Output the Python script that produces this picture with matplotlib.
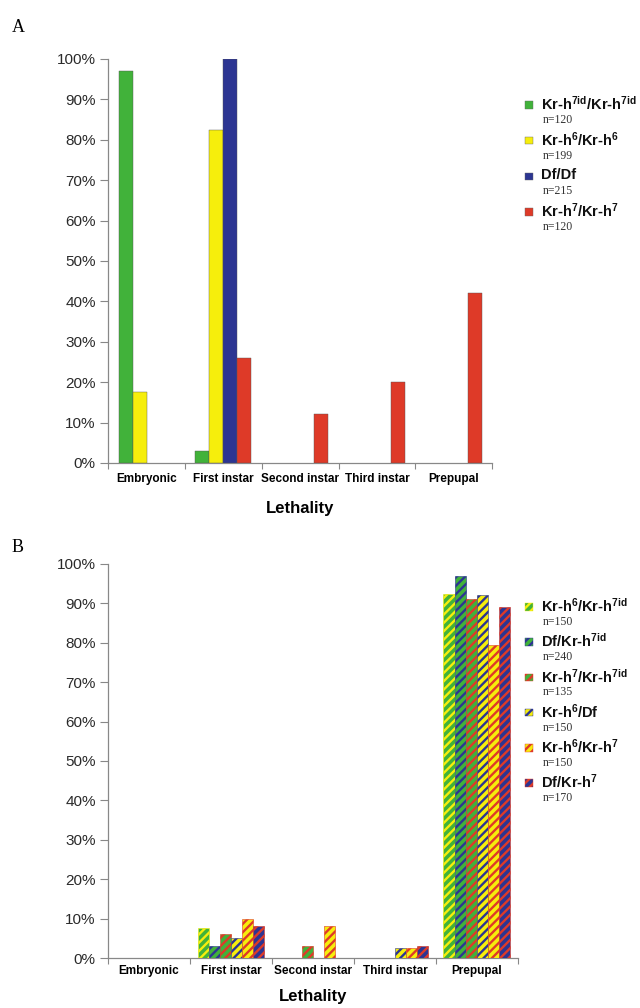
import matplotlib.pyplot as plt
from matplotlib.patches import Rectangle

plt.rcParams['font.family'] = ['Liberation Sans', 'DejaVu Sans']
plt.rcParams['mathtext.fontset'] = 'custom'
plt.rcParams['mathtext.rm'] = 'Liberation Sans:bold'
plt.rcParams['mathtext.it'] = 'Liberation Sans:bold'
plt.rcParams['mathtext.bf'] = 'Liberation Sans:bold'
plt.rcParams['hatch.linewidth'] = 1.7

stages = ["Embryonic", "First instar", "Second instar", "Third instar", "Prepupal"]

# panel A: homozygotes
a_labels = [r"Kr-h$^{7id}$/Kr-h$^{7id}$", r"Kr-h$^{6}$/Kr-h$^{6}$", "Df/Df", r"Kr-h$^{7}$/Kr-h$^{7}$"]
a_n = ["n=120", "n=199", "n=215", "n=120"]
a_kr7id = [97, 3, 0, 0, 0]
a_kr6 = [17.5, 82.5, 0, 0, 0]
a_df = [0, 100, 0, 0, 0]
a_kr7 = [0, 26, 12, 20, 42]

# panel B: trans-heterozygotes
b_labels = [r"Kr-h$^{6}$/Kr-h$^{7id}$", r"Df/Kr-h$^{7id}$", r"Kr-h$^{7}$/Kr-h$^{7id}$",
            r"Kr-h$^{6}$/Df", r"Kr-h$^{6}$/Kr-h$^{7}$", r"Df/Kr-h$^{7}$"]
b_n = ["n=150", "n=240", "n=135", "n=150", "n=150", "n=170"]
b_kr6_kr7id = [0, 7.5, 0, 0, 92.5]
b_df_kr7id = [0, 3, 0, 0, 97]
b_kr7_kr7id = [0, 6, 3, 0, 91]
b_kr6_df = [0, 5, 0, 2.5, 92]
b_kr6_kr7 = [0, 10, 8, 2.5, 79.5]
b_df_kr7 = [0, 8, 0, 3, 89]

green = "#41b23a"
yellow = "#f6ee0c"
blue = "#2c3592"
red = "#de3a28"

a_colors = [green, yellow, blue, red]
b_colors = [(green, yellow), (green, blue), (green, red),
            (yellow, blue), (yellow, red), (blue, red)]

fig = plt.figure(figsize=(6.4, 10.08), dpi=100)
axA = fig.add_axes([0.169, 0.5407, 0.6, 0.4008])
axB = fig.add_axes([0.169, 0.0496, 0.64, 0.3909])


def style_axes(ax, pad, labelpad):
    ax.set_xlim(-0.5, 4.5)
    ax.set_ylim(0, 100)
    ax.set_yticks(range(0, 101, 10))
    ax.set_yticklabels([f"{v}%" for v in range(0, 101, 10)], fontsize=11, color="#2a2a2a")
    ax.set_xticks(range(5))
    ax.set_xticklabels(stages, fontsize=8.5, fontweight="bold")
    ax.set_xticks([i - 0.5 for i in range(6)], minor=True)
    ax.tick_params(axis="x", which="major", length=0, pad=pad)
    ax.tick_params(axis="x", which="minor", length=4, color="#888888", width=0.8)
    ax.tick_params(axis="y", length=6, color="#888888", width=0.8, pad=3)
    for s in ["top", "right"]:
        ax.spines[s].set_visible(False)
    for s in ["left", "bottom"]:
        ax.spines[s].set_color("#888888")
        ax.spines[s].set_linewidth(0.9)
    ax.set_xlabel("Lethality", fontsize=12, fontweight="bold", labelpad=labelpad)


def nonzero(xs, vals):
    pts = [(xv, v) for xv, v in zip(xs, vals) if v > 0]
    return [p[0] for p in pts], [p[1] for p in pts]


x = list(range(5))

wa = 0.182
for i, (vals, c) in enumerate(zip([a_kr7id, a_kr6, a_df, a_kr7], a_colors)):
    xs, vs = nonzero([xi + (i - 1.5) * wa for xi in x], vals)
    axA.bar(xs, vs, width=wa, color=c, edgecolor="#555555", linewidth=0.3, zorder=3)
style_axes(axA, 7, 12)

wb = 0.136
b_series = [b_kr6_kr7id, b_df_kr7id, b_kr7_kr7id, b_kr6_df, b_kr6_kr7, b_df_kr7]
for i, (vals, (c1, c2)) in enumerate(zip(b_series, b_colors)):
    xs, vs = nonzero([xi + (i - 2.5) * wb for xi in x], vals)
    axB.bar(xs, vs, width=wb, color=c1, edgecolor=c2, hatch="////", linewidth=0.4, zorder=3)
style_axes(axB, 5, 9)

# panel letters
fig.text(12 / 640, 1 - 28 / 1008, "A", fontsize=13, family="Liberation Serif", va="center")
fig.text(12 / 640, 1 - 548 / 1008, "B", fontsize=13, family="Liberation Serif", va="center")


def legend_entry(y_px, label, n, face, stripe=None):
    sq = 7.5
    fig.add_artist(Rectangle((525 / 640, 1 - (y_px + sq / 2) / 1008), sq / 640, sq / 1008,
                             transform=fig.transFigure, facecolor=face,
                             edgecolor=stripe if stripe else "#666666",
                             hatch="////" if stripe else None, linewidth=0.3))
    fig.text(541 / 640, 1 - (y_px - 1) / 1008, label, fontsize=10.5, fontweight="bold",
             va="center", color="#111111")
    fig.text(543 / 640, 1 - (y_px + 15) / 1008, n, fontsize=8.5, family="Liberation Serif",
             va="center", color="#333333")


for k, (lab, n, c) in enumerate(zip(a_labels, a_n, a_colors)):
    legend_entry(105 + k * 35.7, lab, n, c)

for k, (lab, n, (c1, c2)) in enumerate(zip(b_labels, b_n, b_colors)):
    legend_entry(607 + k * 35.2, lab, n, c1, c2)

fig.savefig("out.png", dpi=100)
